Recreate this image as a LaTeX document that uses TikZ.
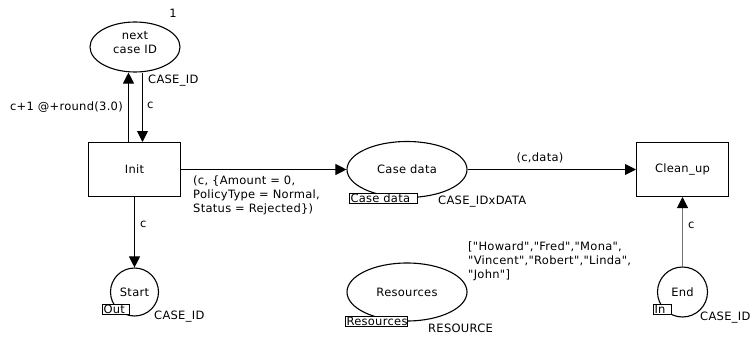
\documentclass[tikz,border=0pt]{standalone}
\usepackage{fontspec}
\newfontfamily\cpnfont{DejaVu Sans}[LetterSpace=2.5]
\usetikzlibrary{shapes.geometric,arrows.meta}
\tikzset{
  place/.style={draw,ellipse,inner sep=0pt,line width=1.1pt},
  iport/.style={draw,circle,inner sep=0pt,line width=1.1pt,minimum size=#1},
  trans/.style={draw,rectangle,inner sep=0pt,line width=1pt},
  tagbox/.style={draw,fill=white,rectangle,inner sep=0pt,line width=1pt,align=left,minimum height=10pt},
  lbl/.style={inner sep=0pt,align=left},
  arc/.style={line width=1pt,-{Triangle[length=11pt,width=11pt]}},
  grayarc/.style={line width=1pt,draw=black!55,-{Triangle[length=11pt,width=11pt,color=black]}}
}
\begin{document}
\begin{tikzpicture}[x=1pt,y=-1pt,font=\cpnfont\fontsize{11.5}{14}\selectfont]
\useasboundingbox (0,0) rectangle (753,337);

% places
\node[place,minimum width=90pt,minimum height=50pt] (nid) at (135,47) {};
\node[lbl,align=center] (nidname) at (135,43) {next\\case ID};
\node[lbl] (one) at (173,13) {1};

\node[place,minimum width=120pt,minimum height=56pt] (cd) at (407,169.5) {Case data};
\node[place,minimum width=120pt,minimum height=58pt] (res) at (407,292) {Resources};
\node[iport=48pt] (start) at (134.5,292) {Start};
\node[iport=50pt] (end) at (682.5,292) {End};

% transitions
\node[trans,minimum width=92pt,minimum height=54pt] (init) at (134.5,169.5) {Init};
\node[trans,minimum width=92pt,minimum height=54pt] (cu) at (682.5,169.5) {Clean\_up};

% port and fusion tags
\node[tagbox,text width=68pt] (cdtag) at (383.5,198.5) {\hspace{1pt}Case data};
\node[tagbox,text width=62pt] (restag) at (376.5,321.5) {\hspace{1pt}Resources};
\node[tagbox,text width=27pt] (outtag) at (116,309.5) {\hspace{1pt}Out};
\node[tagbox,text width=18pt] (intag) at (662.5,309.5) {\hspace{1pt}In};

% colour sets
\node[lbl,anchor=west] (csnid) at (148,81) {CASE\_ID};
\node[lbl,anchor=west] (cscd) at (438,202) {CASE\_IDxDATA};
\node[lbl,anchor=west] (csstart) at (154,317) {CASE\_ID};
\node[lbl,anchor=west] (csres) at (428,328) {RESOURCE};
\node[lbl,anchor=west] (csend) at (700,318) {CASE\_ID};

% initial marking of Resources
\node[lbl,anchor=west] (mres) at (468,261)
  {["Howard","Fred","Mona",\\"Vincent","Robert","Linda",\\"John"]};

% arcs
\draw[arc] ([xshift=-6pt]init.north) -- ([xshift=-6.5pt]nid.south);
\draw[arc] ([xshift=7.5pt]nid.south) -- ([xshift=8pt]init.north);
\draw[arc] (init.east) -- (cd.west);
\draw[arc] (cd.east) -- (cu.west);
\draw[arc] (init.south) -- (start.north);
\draw[grayarc] (end.north) -- (cu.south);

% arc inscriptions
\node[lbl,anchor=west] at (147,105) {c};
\node[lbl,anchor=east] at (123,107) {c+1 @+round(3.0)};
\node[lbl,anchor=west] at (193,195) {(c, \{Amount = 0,\\PolicyType = Normal,\\Status = Rejected\})};
\node[lbl] at (540,158) {(c,data)};
\node[lbl,anchor=west] at (140,224) {c};
\node[lbl,anchor=west] at (688,225) {c};
\end{tikzpicture}
\end{document}
